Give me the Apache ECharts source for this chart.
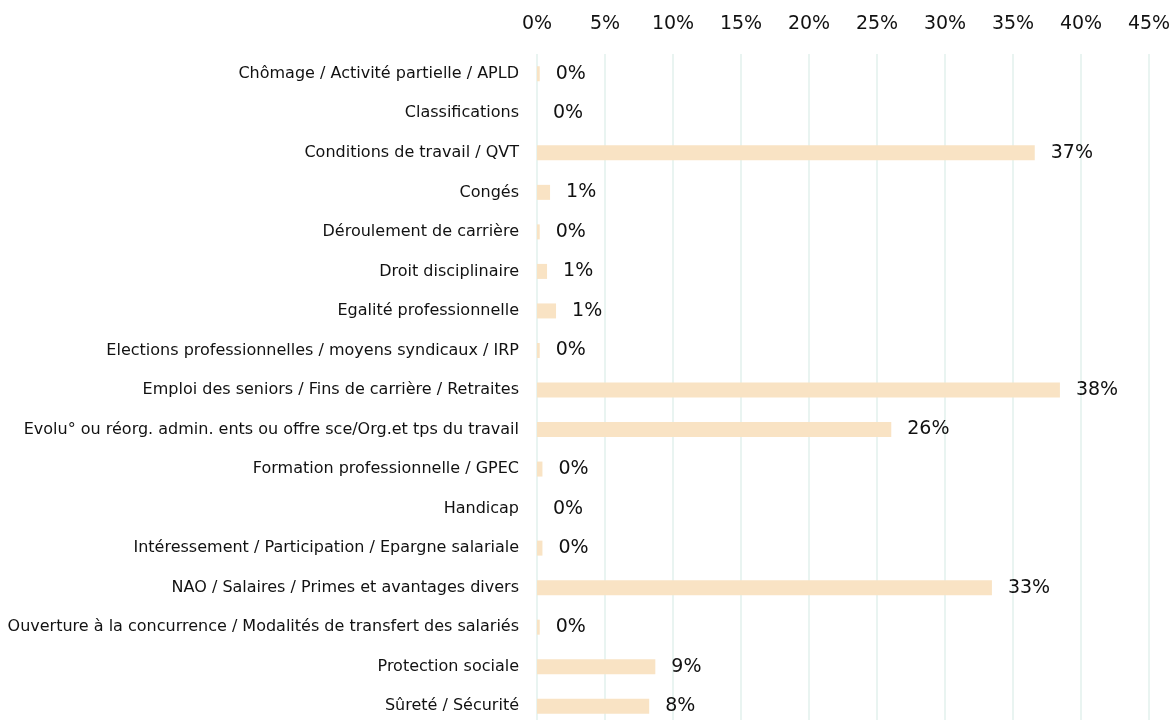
<!DOCTYPE html>
<html>
<head>
<meta charset="utf-8">
<script src="https://cdn.jsdelivr.net/npm/echarts@6/dist/echarts.min.js"></script>
<style>
  html, body { margin: 0; padding: 0; background: #fff; }
  #chart { width: 1173px; height: 720px; }
</style>
</head>
<body>
<div id="chart"></div>
<script>
// catégories (de haut en bas)
const categories = [
  'Chômage / Activité partielle / APLD',
  'Classifications',
  'Conditions de travail / QVT',
  'Congés',
  'Déroulement de carrière',
  'Droit disciplinaire',
  'Egalité professionnelle',
  'Elections professionnelles / moyens syndicaux / IRP',
  'Emploi des seniors / Fins de carrière / Retraites',
  'Evolu° ou réorg. admin. ents ou offre sce/Org.et tps du travail',
  'Formation professionnelle / GPEC',
  'Handicap',
  'Intéressement / Participation / Epargne salariale',
  'NAO / Salaires / Primes et avantages divers',
  'Ouverture à la concurrence / Modalités de transfert des salariés',
  'Protection sociale',
  'Sûreté / Sécurité'
]

// valeurs en %
const values = [0.2, 0, 36.6, 0.96, 0.2, 0.74, 1.4, 0.2, 38.45, 26.05, 0.4, 0, 0.4, 33.45, 0.2, 8.7, 8.25]

const axisMax = 45
const axisStep = 5

const chart = echarts.init(document.getElementById('chart'))

const font = 'DejaVu Sans, sans-serif'

chart.setOption({
  backgroundColor: '#fff',
  animation: false,
  grid: {
    left: 537,
    right: 24,
    top: 54,
    height: 672,
    outerBoundsMode: 'none'
  },
  xAxis: {
    type: 'value',
    position: 'top',
    min: 0,
    max: axisMax,
    interval: axisStep,
    axisLine: { show: false },
    axisTick: { show: false },
    axisLabel: {
      formatter: (v) => v + '%',
      color: '#111',
      fontSize: 19,
      fontFamily: font,
      margin: 20
    },
    splitLine: {
      lineStyle: { color: '#e2f1ed', width: 1.5 }
    }
  },
  yAxis: {
    type: 'category',
    inverse: true,
    data: categories,
    axisLine: { show: false },
    axisTick: { show: false },
    axisLabel: {
      color: '#111',
      fontSize: 16,
      fontFamily: font,
      margin: 18
    }
  },
  series: [
    {
      type: 'bar',
      data: values,
      barWidth: 15,
      itemStyle: { color: '#f9e3c4' },
      label: {
        show: true,
        position: 'right',
        distance: 16,
        color: '#111',
        fontSize: 19,
        fontFamily: font,
        formatter: (p) => Math.round(p.value) + '%'
      }
    }
  ]
})
</script>
</body>
</html>
